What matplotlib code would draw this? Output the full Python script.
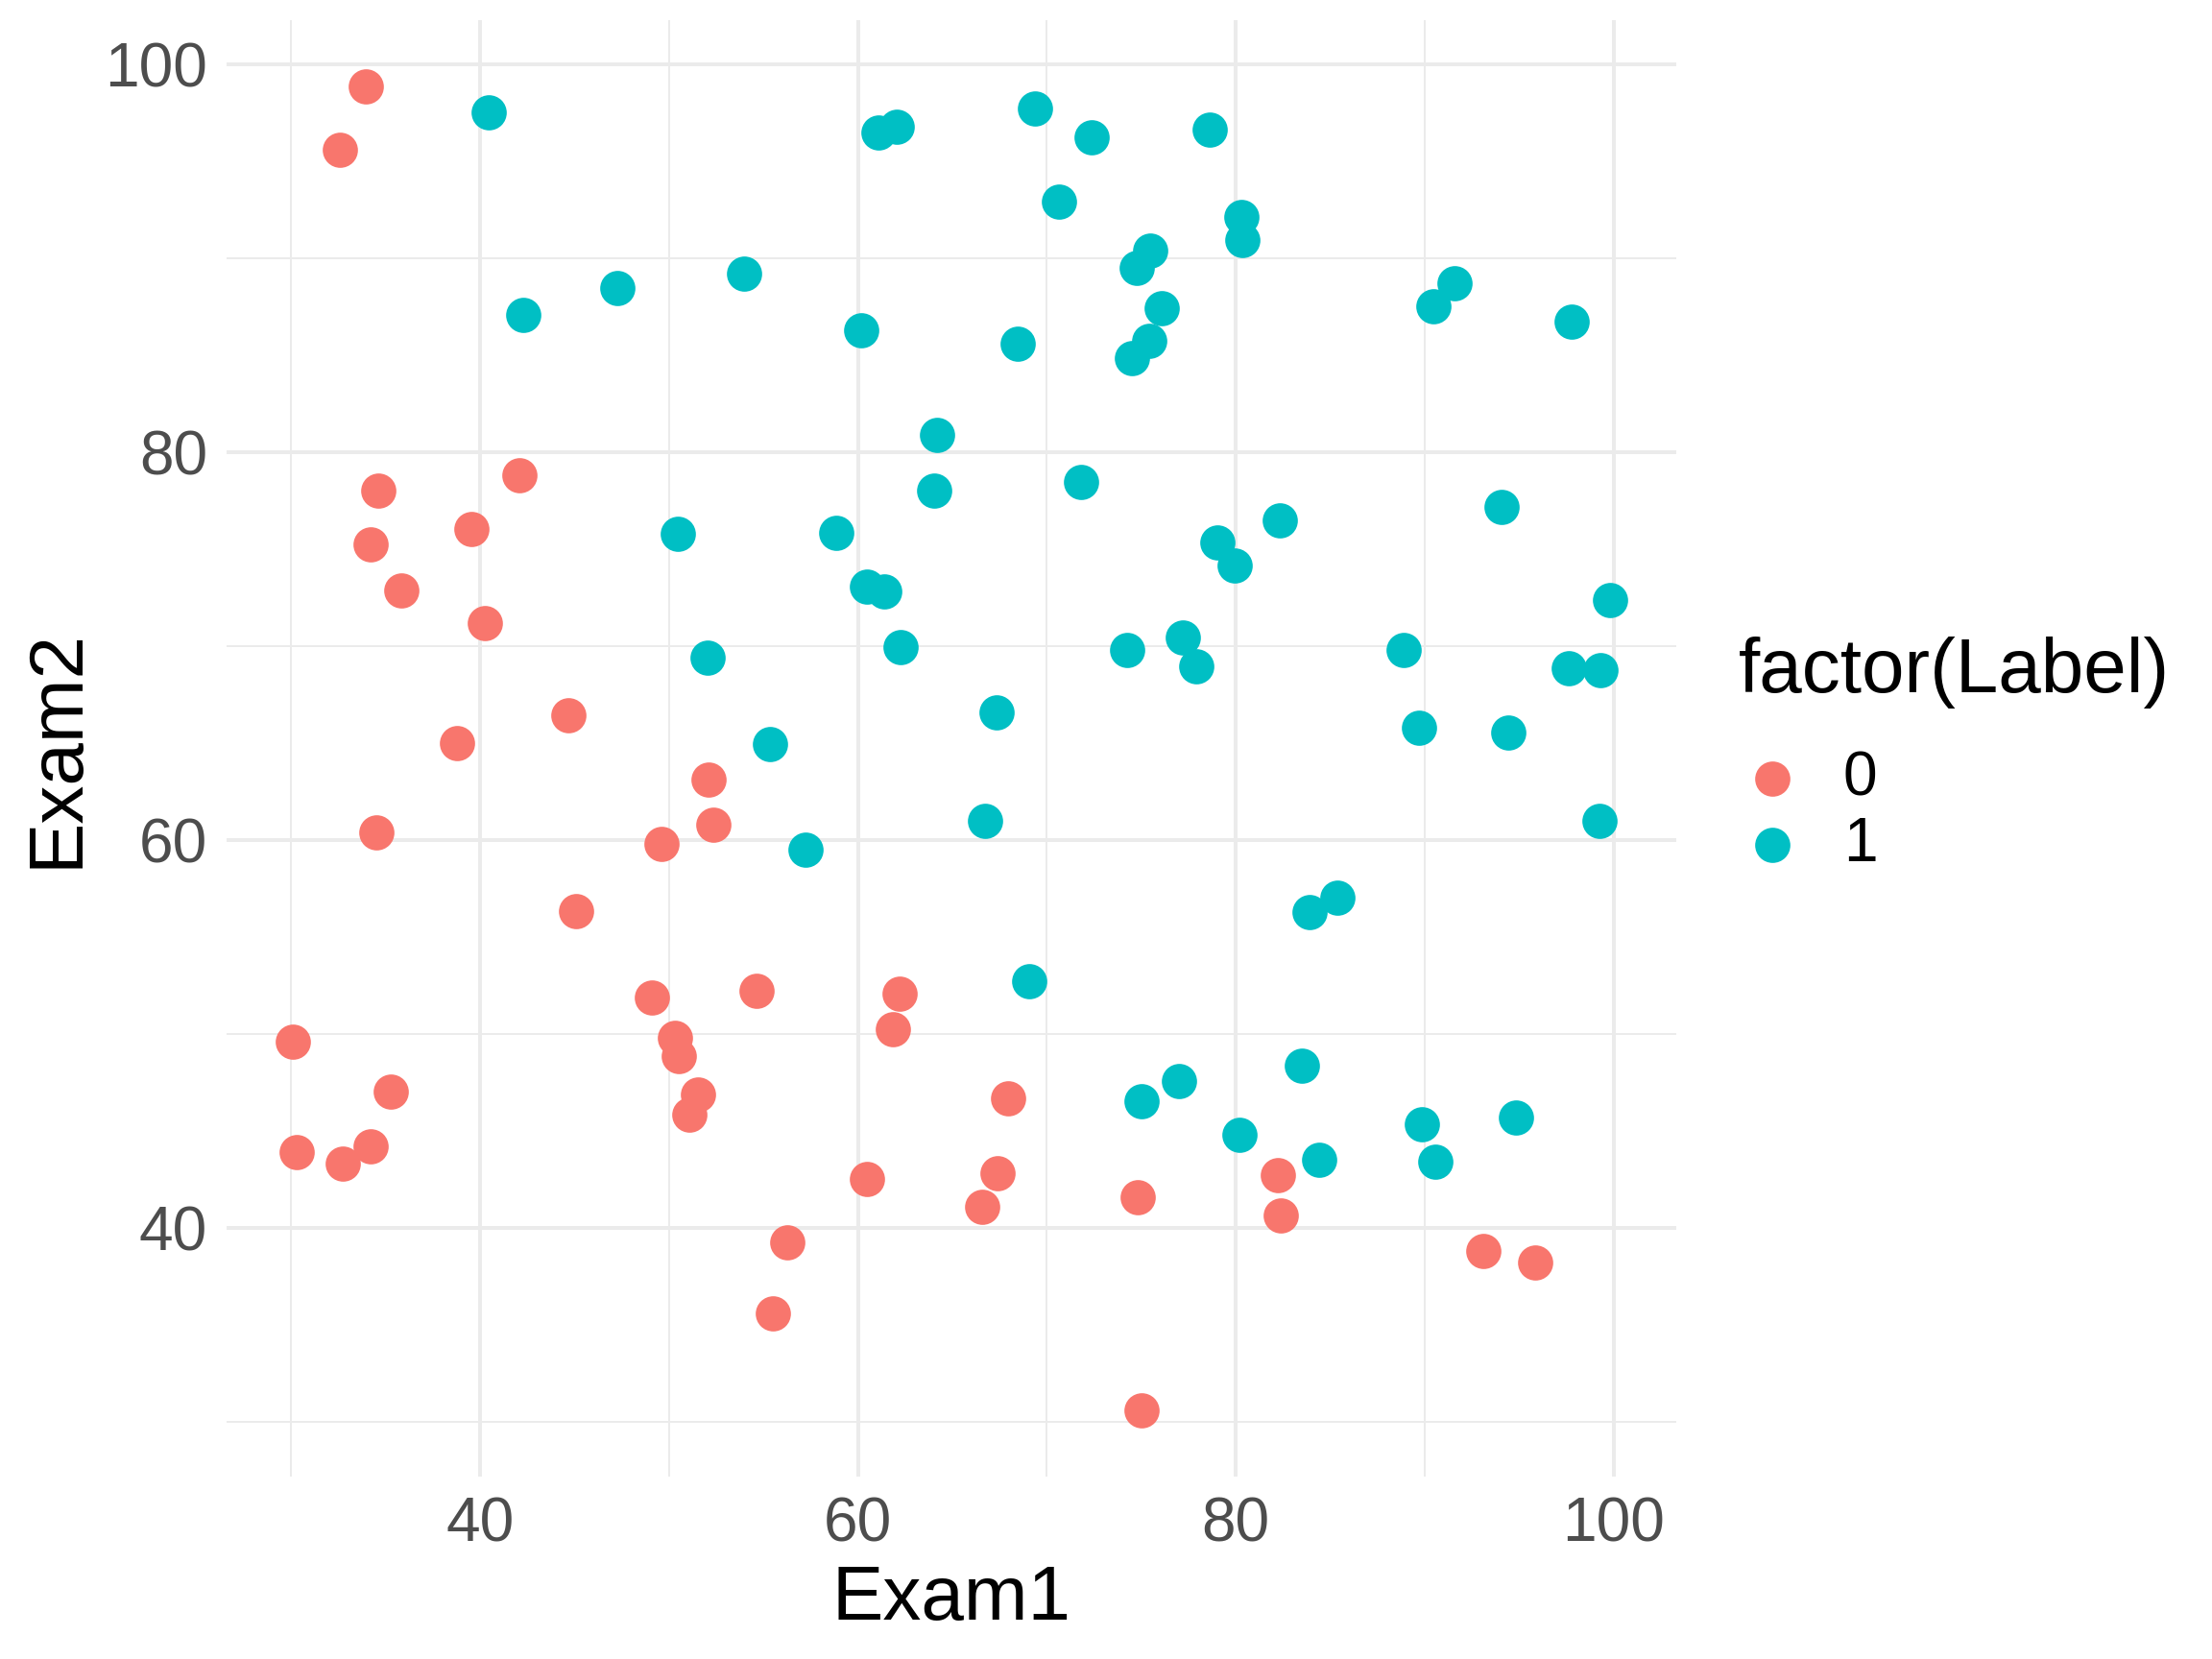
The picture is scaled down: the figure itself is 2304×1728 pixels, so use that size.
import numpy as np
import matplotlib.pyplot as plt
from matplotlib.ticker import MultipleLocator

plt.rcParams['font.family'] = ['Liberation Sans', 'DejaVu Sans']

# exam scores and admission label (0 = not admitted, 1 = admitted)
exam1 = [34.62, 30.29, 35.85, 60.18, 79.03, 45.08, 61.11, 75.02, 76.10, 84.43,
         95.86, 75.01, 82.31, 69.36, 39.54, 53.97, 69.07, 67.95, 70.66, 76.98,
         67.37, 89.68, 50.53, 34.21, 77.92, 62.27, 80.19, 93.11, 61.83, 38.79,
         61.38, 85.40, 52.11, 52.05, 40.24, 54.64, 33.92, 64.18, 74.79, 34.18,
         83.90, 51.55, 94.44, 82.37, 51.05, 62.22, 77.19, 97.77, 62.07, 91.56,
         79.94, 99.27, 90.55, 34.52, 50.29, 49.59, 97.65, 32.58, 74.25, 71.80,
         75.40, 35.29, 56.25, 30.06, 44.67, 66.56, 40.46, 49.07, 80.28, 66.75,
         32.72, 64.04, 72.35, 60.46, 58.84, 99.83, 47.26, 50.46, 60.46, 82.23,
         88.91, 94.83, 67.32, 57.24, 80.37, 68.47, 42.08, 75.48, 78.64, 52.35,
         94.09, 90.45, 55.48, 74.49, 89.85, 83.49, 42.26, 99.32, 55.34, 74.78]
exam2 = [78.02, 43.89, 72.90, 86.31, 75.34, 56.32, 96.51, 46.55, 87.42, 43.53,
         38.23, 30.60, 76.48, 97.72, 76.04, 89.21, 52.74, 46.68, 92.93, 47.58,
         42.84, 65.80, 48.86, 44.21, 68.97, 69.95, 44.82, 38.80, 50.26, 65.00,
         72.81, 57.05, 63.13, 69.43, 71.17, 52.21, 98.87, 80.91, 41.57, 75.24,
         56.31, 46.86, 65.57, 40.62, 45.82, 52.06, 70.46, 86.73, 96.77, 88.70,
         74.16, 61.00, 43.39, 60.40, 49.80, 59.81, 68.86, 95.60, 69.82, 78.45,
         85.76, 47.02, 39.26, 49.59, 66.45, 41.09, 97.54, 51.88, 92.12, 60.99,
         43.31, 78.03, 96.23, 73.09, 75.86, 72.37, 88.48, 75.81, 42.51, 42.72,
         69.80, 45.69, 66.59, 59.51, 90.96, 85.59, 78.84, 90.42, 96.65, 60.77,
         77.16, 87.51, 35.57, 84.85, 45.36, 48.38, 87.10, 68.78, 64.93, 89.53]
label = [0, 0, 0, 1, 1, 0, 1, 1, 1, 1,
         0, 0, 1, 1, 0, 1, 1, 0, 1, 1,
         0, 1, 0, 0, 1, 1, 1, 0, 0, 0,
         1, 1, 0, 1, 0, 0, 0, 1, 0, 0,
         1, 0, 1, 0, 0, 0, 1, 1, 1, 1,
         1, 1, 1, 0, 0, 0, 1, 0, 1, 1,
         1, 0, 0, 0, 0, 0, 1, 0, 1, 1,
         0, 1, 1, 1, 1, 1, 1, 1, 0, 0,
         1, 1, 1, 1, 1, 1, 0, 1, 1, 0,
         1, 1, 0, 1, 1, 1, 1, 1, 1, 1]

levels = [0, 1]
level_colors = ['#F8766D', '#00BFC4']

exam1 = np.array(exam1)
exam2 = np.array(exam2)
label = np.array(label)

fig = plt.figure(figsize=(16, 12), dpi=144)
ax = fig.add_axes([0.1024, 0.1101, 0.6554, 0.8777])

for lev, col in zip(levels, level_colors):
    m = label == lev
    ax.scatter(exam1[m], exam2[m], s=336, color=col, linewidths=0, label=str(lev), zorder=3)

# ggplot-style 5% expansion
def expand(v, f=0.05):
    r = v.max() - v.min()
    return v.min() - f * r, v.max() + f * r

ax.set_xlim(*expand(exam1))
ax.set_ylim(*expand(exam2))

for axis in (ax.xaxis, ax.yaxis):
    axis.set_major_locator(MultipleLocator(20))
    axis.set_minor_locator(MultipleLocator(10))

ax.grid(True, which='major', color='#EBEBEB', linewidth=2.0, zorder=0)
ax.grid(True, which='minor', color='#EBEBEB', linewidth=1.0, zorder=0)
ax.set_axisbelow(True)
for sp in ax.spines.values():
    sp.set_visible(False)

ax.tick_params(axis='both', which='both', length=0, labelsize=32, labelcolor='#4D4D4D')
ax.tick_params(axis='x', pad=10.5)
ax.tick_params(axis='y', pad=10)

ax.set_xlabel('Exam1', fontsize=40, labelpad=5)
ax.set_ylabel('Exam2', fontsize=40)
ax.yaxis.set_label_coords(-0.0914, 0.5)

ax.legend(loc='upper left', bbox_to_anchor=(0.786, 0.5479), bbox_transform=fig.transFigure,
          frameon=False, fontsize=32, borderpad=0, borderaxespad=0,
          handlelength=1.09, handletextpad=0.61, labelspacing=0.13)
fig.text(0.786, 0.5828, 'factor(Label)', fontsize=40, va='baseline', ha='left')

fig.savefig('out.png', dpi=144)
